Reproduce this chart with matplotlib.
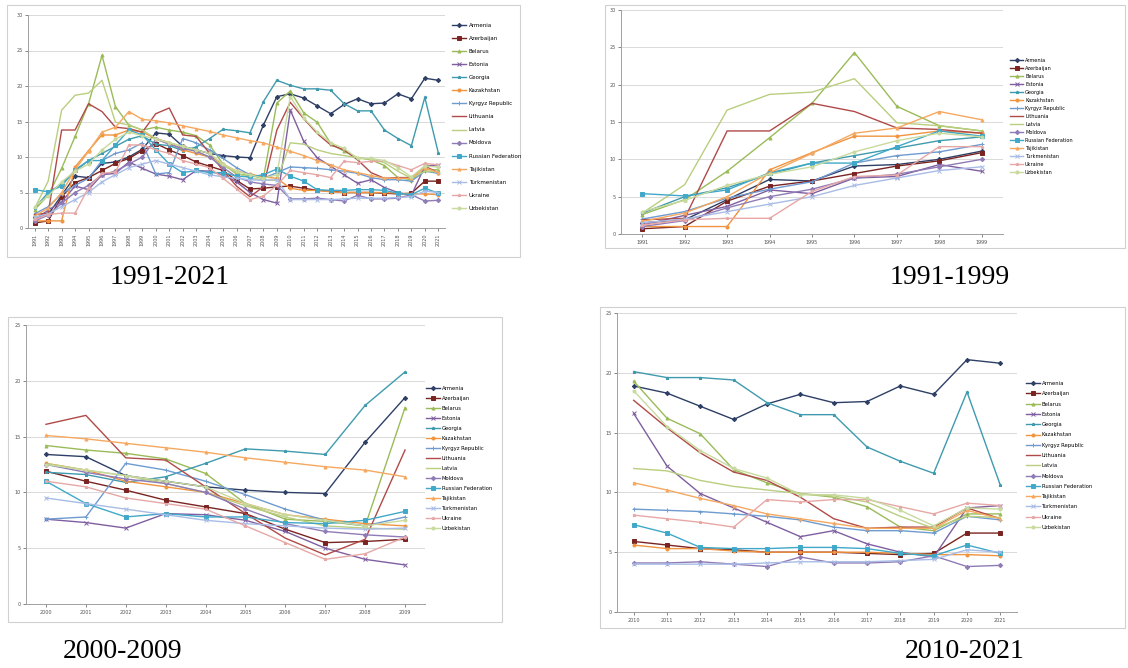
import matplotlib
matplotlib.use("Agg")
from matplotlib import pyplot as plt
from matplotlib.patches import Rectangle
import numpy as np

years = list(range(1991, 2022))
countries = ["Armenia", "Azerbaijan", "Belarus", "Estonia", "Georgia", "Kazakhstan",
             "Kyrgyz Republic", "Lithuania", "Latvia", "Moldova", "Russian Federation",
             "Tajikistan", "Turkmenistan", "Ukraine", "Uzbekistan"]

# values per year 1991..2021
armenia = [1.5, 1.9, 4.6, 7.3, 7.1, 9.1, 9.3, 10.0, 11.1,
           13.4, 13.2, 11.5, 11.0, 10.5, 10.2, 10.0, 9.9, 14.5, 18.5,
           18.9, 18.3, 17.2, 16.1, 17.4, 18.2, 17.5, 17.6, 18.9, 18.2, 21.1, 20.8]
azerbaijan = [0.7, 1.0, 4.4, 6.4, 7.1, 8.1, 9.1, 9.8, 10.9,
              11.9, 11.0, 10.2, 9.3, 8.7, 8.1, 6.7, 5.5, 5.6, 5.8,
              5.9, 5.6, 5.3, 5.2, 5.0, 5.0, 5.0, 4.9, 4.8, 4.9, 6.6, 6.6]
belarus = [2.6, 4.6, 8.4, 12.9, 17.5, 24.3, 17.1, 14.5, 13.8,
           14.2, 13.8, 13.5, 13.0, 11.7, 9.0, 7.6, 7.4, 7.0, 17.6,
           19.3, 16.2, 14.9, 11.9, 10.8, 9.9, 9.6, 8.8, 7.1, 6.8, 8.2, 8.2]
estonia = [1.2, 2.5, 3.7, 5.9, 5.4, 7.5, 7.7, 9.3, 8.4,
           7.6, 7.3, 6.8, 8.1, 8.0, 7.5, 6.5, 5.0, 4.0, 3.5,
           16.6, 12.2, 9.9, 8.7, 7.5, 6.3, 6.8, 5.7, 5.0, 4.6, 8.7, 8.9]
georgia = [2.8, 5.0, 6.2, 8.0, 9.5, 10.5, 11.5, 12.5, 13.0,
           11.8, 11.6, 10.9, 11.4, 12.6, 13.9, 13.7, 13.4, 17.8, 20.8,
           20.1, 19.6, 19.6, 19.4, 17.5, 16.5, 16.5, 13.8, 12.6, 11.6, 18.4, 10.6]
kazakhstan = [1.0, 1.0, 1.0, 8.6, 10.9, 13.1, 13.1, 13.8, 13.5,
              12.6, 12.0, 11.0, 10.5, 10.0, 9.0, 8.0, 7.6, 7.2, 7.0,
              5.6, 5.3, 5.3, 5.1, 5.0, 5.0, 5.0, 5.0, 4.9, 4.8, 4.8, 4.7]
kyrgyz = [2.0, 3.0, 4.8, 6.0, 7.0, 9.5, 10.5, 11.0, 12.0,
          7.6, 7.8, 12.6, 12.0, 11.0, 9.8, 8.5, 7.5, 7.0, 7.8,
          8.6, 8.5, 8.4, 8.2, 8.0, 7.7, 7.1, 6.8, 6.8, 6.6, 8.0, 7.7]
lithuania = [1.9, 2.1, 13.8, 13.8, 17.5, 16.4, 14.2, 14.0, 13.5,
             16.1, 16.9, 13.1, 12.9, 10.5, 8.1, 5.9, 4.4, 5.8, 13.8,
             17.7, 15.4, 13.3, 11.7, 11.0, 9.6, 7.8, 7.0, 7.1, 7.1, 8.7, 7.8]
latvia = [2.8, 6.6, 16.6, 18.7, 19.0, 20.8, 14.9, 14.5, 13.8,
          12.6, 12.0, 11.5, 10.8, 10.0, 8.8, 7.8, 7.0, 6.8, 6.7,
          12.0, 11.8, 11.0, 10.5, 10.2, 9.9, 9.7, 9.2, 8.0, 7.0, 8.0, 7.9]
moldova = [1.0, 1.8, 3.5, 5.0, 6.0, 7.5, 8.0, 9.0, 10.0,
           12.5, 11.8, 11.2, 10.8, 10.0, 8.5, 7.2, 6.5, 6.2, 6.0,
           4.1, 4.1, 4.2, 4.0, 3.8, 4.6, 4.1, 4.1, 4.2, 4.7, 3.8, 3.9]
russia = [5.4, 5.1, 5.9, 8.2, 9.5, 9.5, 11.7, 13.8, 13.1,
          11.0, 9.0, 7.8, 8.1, 7.8, 7.8, 7.3, 7.2, 7.5, 8.3,
          7.3, 6.6, 5.4, 5.3, 5.3, 5.4, 5.4, 5.3, 4.9, 4.7, 5.6, 4.9]
tajikistan = [1.7, 2.8, 5.0, 8.2, 10.8, 13.5, 14.2, 16.4, 15.3,
              15.1, 14.8, 14.4, 14.0, 13.6, 13.1, 12.7, 12.3, 12.0, 11.4,
              10.8, 10.2, 9.5, 8.9, 8.2, 7.8, 7.4, 7.0, 7.0, 7.0, 8.5, 7.8]
turkmenistan = [1.5, 2.0, 3.0, 4.0, 5.0, 6.5, 7.5, 8.5, 9.0,
                9.5, 9.0, 8.5, 8.0, 7.5, 7.2, 7.0, 6.8, 6.7, 6.8,
                4.0, 4.0, 4.0, 4.0, 4.1, 4.2, 4.2, 4.2, 4.3, 4.4, 5.2, 5.0]
ukraine = [1.2, 1.9, 2.1, 2.1, 5.7, 7.7, 7.9, 11.7, 11.7,
           11.0, 10.5, 9.5, 9.0, 8.5, 7.0, 5.5, 4.0, 4.5, 6.0,
           8.1, 7.8, 7.5, 7.1, 9.4, 9.2, 9.4, 9.4, 8.8, 8.2, 9.1, 8.9]
uzbekistan = [3.0, 4.5, 6.5, 8.0, 9.0, 11.0, 12.5, 13.5, 13.0,
              12.5, 12.0, 11.5, 11.0, 10.5, 9.0, 8.0, 7.5, 7.0, 7.5,
              18.5, 15.5, 13.5, 12.0, 11.2, 9.8, 9.8, 9.5, 8.5, 7.2, 8.7, 8.6]

series = [armenia, azerbaijan, belarus, estonia, georgia, kazakhstan, kyrgyz,
          lithuania, latvia, moldova, russia, tajikistan, turkmenistan, ukraine, uzbekistan]

colors = ["#2E3F66", "#7A2422", "#9BBB59", "#7F5FA0", "#3F9AAE", "#F0943F", "#6E9BD0",
          "#B04A48", "#B9CE7E", "#8F7BB5", "#40A8C8", "#F5A860", "#A8BCE6", "#E6A8A6", "#C8DA9E"]
markers = ["D", "s", "^", "x", "*", "o", "+", None, None, "D", "s", "^", "x", "*", "o"]

W, H = 1128, 668
fig = plt.figure(figsize=(W / 100, H / 100), dpi=100)


def rect(x0, y0, x1, y1):
    return [x0 / W, 1 - y1 / H, (x1 - x0) / W, (y1 - y0) / H]


# start year, end year, frame, plot area, legend (x, y, spacing, size), ymax, caption (x, y), rotate labels
panels = [
    (1991, 2021, (7, 5, 520, 257), (28, 15, 445, 228), (452, 23, 1.45, 4), 30, (170, 278), True),
    (1991, 1999, (605, 5, 1125, 248), (621, 10, 1003, 234), (1010, 58, 0.6, 3.6), 30, (950, 278), False),
    (2000, 2009, (8, 317, 502, 622), (26, 325, 425, 604), (426, 386, 0.95, 3.8), 25, (123, 652), False),
    (2010, 2021, (600, 307, 1125, 628), (617, 313, 1017, 612), (1026, 381, 1.0, 3.8), 25, (965, 652), False),
]

for start, end, frame, area, leg, ymax, cap, rotate in panels:
    fig.patches.append(Rectangle((frame[0] / W, 1 - frame[3] / H), (frame[2] - frame[0]) / W,
                                 (frame[3] - frame[1]) / H, transform=fig.transFigure,
                                 facecolor="white", edgecolor="#D0D0D0", linewidth=0.8,
                                 zorder=-5))
    ax = fig.add_axes(rect(*area))
    ax.patch.set_alpha(0)
    i0, i1 = years.index(start), years.index(end) + 1
    x = np.arange(i1 - i0)
    for name, vals, c, m in zip(countries, series, colors, markers):
        ax.plot(x, vals[i0:i1], color=c, linewidth=1.0, marker=m, markersize=2.2,
                markeredgewidth=0.7, label=name)
    ax.set_xlim(-0.5, len(x) - 0.5)
    ax.set_ylim(0, ymax)
    ax.set_yticks(range(0, ymax + 1, 5))
    ax.set_xticks(x)
    ax.set_xticklabels([str(y) for y in years[i0:i1]], rotation=90 if rotate else 0)
    ax.tick_params(labelsize=3.5, colors="#555555", length=2, width=0.5, pad=2)
    ax.grid(axis="y", color="#D9D9D9", linewidth=0.7)
    ax.set_axisbelow(True)
    for s in ["top", "right"]:
        ax.spines[s].set_visible(False)
    for s in ["left", "bottom"]:
        ax.spines[s].set_color("#A0A0A0")
        ax.spines[s].set_linewidth(0.7)
    fig.legend(*ax.get_legend_handles_labels(), loc="upper left",
               bbox_to_anchor=(leg[0] / W, 1 - leg[1] / H), frameon=False,
               fontsize=leg[3], labelspacing=leg[2], handlelength=2.6,
               handletextpad=0.4, borderpad=0, borderaxespad=0)
    fig.text(cap[0] / W, 1 - cap[1] / H, f"{start}-{end}", ha="center", va="center",
             fontsize=20, family="Liberation Serif")

fig.savefig("out.png", dpi=100)
